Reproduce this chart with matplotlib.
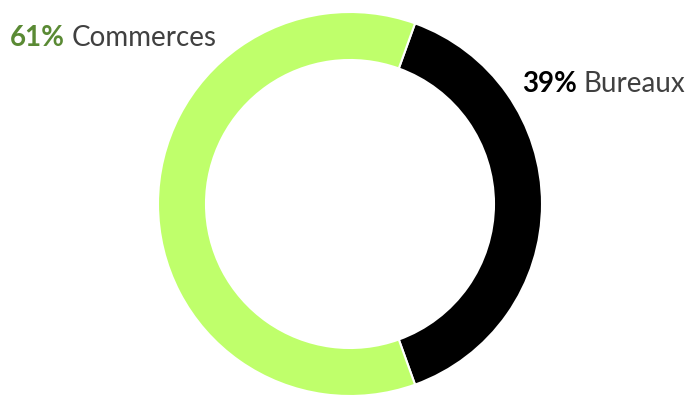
import numpy as np
import matplotlib.pyplot as plt

# data
labels = ['Bureaux', 'Commerces']
shares = [39, 61]
colors = ['#000000', '#bfff6b']
pct_colors = ['#000000', '#5a8a34']

W, H = 689, 397
fig = plt.figure(figsize=(W/100, H/100), dpi=100)

# donut centre (350, 204) px, outer radius 192 px
cx, cy, r = 350, 204, 192
ax = fig.add_axes([(cx-r)/W, (H-cy-r)/H, 2*r/W, 2*r/H])
start = shares[0]/100*360/2
ax.pie(shares, colors=colors, startangle=start, counterclock=False,
       radius=1, wedgeprops=dict(width=0.25, edgecolor='white', linewidth=1.5))
ax.set_xlim(-1, 1)
ax.set_ylim(-1, 1)
ax.set_aspect('equal')
ax.axis('off')

# labels: (x, baseline y) in pixels
label_pos = [(522, 92), (10, 46)]
fig.canvas.draw()
renderer = fig.canvas.get_renderer()
for lab, sh, pc, (x, y) in zip(labels, shares, pct_colors, label_pos):
    t = fig.text(x/W, 1 - y/H, '{}%'.format(sh), fontsize=20, fontweight='bold',
                 color=pc, family='Lato', va='baseline', ha='left')
    bb = t.get_window_extent(renderer)
    fig.text((bb.x1 + 7)/W, 1 - y/H, lab, fontsize=20, color='#404040',
             family='Lato', va='baseline', ha='left')

fig.savefig('out.png', dpi=100)
